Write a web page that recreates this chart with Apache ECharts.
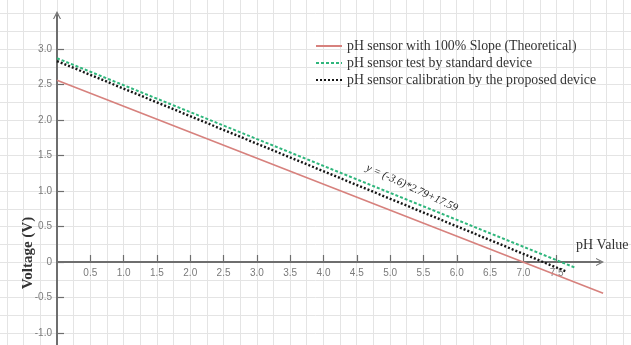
<!DOCTYPE html>
<html>
<head>
<meta charset="utf-8">
<script src="https://cdn.jsdelivr.net/npm/echarts@6/dist/echarts.min.js"></script>
<style>html,body{margin:0;padding:0;background:#fff;}#c{width:631px;height:345px;}</style>
</head>
<body>
<div id="c"></div>
<script>
// ---- data ----
const seriesNames = [
  'pH sensor with 100% Slope (Theoretical)',
  'pH sensor test by standard device',
  'pH sensor calibration by the proposed device'
];
const theoreticalPH = [0, 8.2];
const theoreticalV  = [2.56, -0.44];
const standardPH = [0, 7.78];
const standardV  = [2.87, -0.08];
const proposedPH = [0, 7.66];
const proposedV  = [2.83, -0.14];
const xTickValues = [0.5, 1.0, 1.5, 2.0, 2.5, 3.0, 3.5, 4.0, 4.5, 5.0, 5.5, 6.0, 6.5, 7.0, 7.5];
const yTickValues = [-1.0, -0.5, 0, 0.5, 1.0, 1.5, 2.0, 2.5, 3.0];
const equationText = 'y = (-3.6)*2.79+17.59';
const xAxisTitle = 'pH Value';
const yAxisTitle = 'Voltage (V)';

function pairs(xs, ys) { return xs.map((x, i) => [x, ys[i]]); }

const chart = echarts.init(document.getElementById('c'), null, { renderer: 'canvas' });
const labelFont = { color: '#7a7a7a', fontSize: 10, fontFamily: 'Liberation Sans' };
const arrowPath = 'path://M0,10 L5,0 L10,10 L8.6,10 L5,3 L1.4,10 Z';
const axisColor = '#6e6e6e';
const hiddenAxis = { axisLine: { show: false }, axisTick: { show: false },
  axisLabel: { show: false }, splitLine: { show: false } };

chart.setOption({
  animation: false,
  backgroundColor: '#ffffff',
  legend: {
    orient: 'vertical',
    left: 310,
    top: 34,
    itemWidth: 26,
    itemHeight: 12,
    itemGap: 3,
    itemStyle: { opacity: 0 },
    textStyle: { color: '#333', fontSize: 13.8, fontFamily: 'Liberation Serif' },
    data: seriesNames
  },
  grid: [
    // data + background grid
    { left: -9.6, width: 666, top: -22, height: 390.5, outerBoundsMode: 'none', containLabel: false },
    // vertical (voltage) axis
    { left: 57, right: 31, top: 15, bottom: -23.5, outerBoundsMode: 'none', containLabel: false },
    // horizontal (pH) axis, its bottom edge sits at voltage 0
    { left: 57, right: 31, top: 15, bottom: 83, outerBoundsMode: 'none', containLabel: false }
  ],
  xAxis: [
    {
      gridIndex: 0, type: 'value', min: -1, max: 9, interval: 0.25,
      axisLine: { show: false }, axisTick: { show: false }, axisLabel: { show: false },
      splitLine: { show: true, lineStyle: { color: '#e4e4e4', width: 1 } }
    },
    Object.assign({ gridIndex: 1, type: 'value', min: 0, max: 8.15 }, hiddenAxis),
    {
      gridIndex: 2, type: 'value', min: 0, max: 8.15, position: 'bottom',
      axisLine: { show: true, onZero: false, symbol: ['none', arrowPath], symbolSize: [10, 8],
        lineStyle: { color: axisColor, width: 2 } },
      axisTick: { show: true, inside: true, length: 7, customValues: xTickValues,
        lineStyle: { color: axisColor, width: 1.2 } },
      axisLabel: { show: true, customValues: xTickValues, margin: 6,
        formatter: v => v.toFixed(1), ...labelFont },
      splitLine: { show: false }
    }
  ],
  yAxis: [
    {
      gridIndex: 0, type: 'value', min: -1.5, max: 4, interval: 0.25,
      axisLine: { show: false }, axisTick: { show: false }, axisLabel: { show: false },
      splitLine: { show: true, lineStyle: { color: '#e4e4e4', width: 1 } }
    },
    {
      gridIndex: 1, type: 'value', min: -1.5, max: 3.479, position: 'left',
      axisLine: { show: true, onZero: false, symbol: ['none', arrowPath], symbolSize: [10, 8],
        lineStyle: { color: axisColor, width: 2 } },
      axisTick: { show: true, inside: true, length: 7, customValues: yTickValues,
        lineStyle: { color: axisColor, width: 1.2 } },
      axisLabel: { show: true, customValues: yTickValues, margin: 5,
        formatter: v => (v === 0 ? '0' : v.toFixed(1)), ...labelFont },
      splitLine: { show: false }
    },
    Object.assign({ gridIndex: 2, type: 'value', min: 0, max: 1 }, hiddenAxis)
  ],
  series: [
    {
      name: seriesNames[0], type: 'line', xAxisIndex: 0, yAxisIndex: 0,
      data: pairs(theoreticalPH, theoreticalV), symbol: 'none', silent: true,
      lineStyle: { color: '#d7817d', width: 1.6, type: 'solid' }, itemStyle: { color: '#d7817d' }
    },
    {
      name: seriesNames[1], type: 'line', xAxisIndex: 0, yAxisIndex: 0,
      data: pairs(standardPH, standardV), symbol: 'none', silent: true,
      lineStyle: { color: '#2fb67c', width: 2, type: [3, 2] }, itemStyle: { color: '#2fb67c' }
    },
    {
      name: seriesNames[2], type: 'line', xAxisIndex: 0, yAxisIndex: 0,
      data: pairs(proposedPH, proposedV), symbol: 'none', silent: true,
      lineStyle: { color: '#151515', width: 2.4, type: [2, 2] }, itemStyle: { color: '#151515' }
    }
  ],
  graphic: [
    {
      type: 'text', x: 412, y: 188, rotation: -0.43, z: 100,
      style: { text: equationText, fill: '#222', font: 'italic 11px "Liberation Serif"',
        align: 'center', verticalAlign: 'middle' }
    },
    {
      type: 'text', x: 576, y: 245, z: 100,
      style: { text: xAxisTitle, fill: '#333', font: '14px "Liberation Serif"',
        align: 'left', verticalAlign: 'middle' }
    },
    {
      type: 'text', x: 28, y: 253, rotation: Math.PI / 2, z: 100,
      style: { text: yAxisTitle, fill: '#333', font: 'bold 15px "Liberation Serif"',
        align: 'center', verticalAlign: 'middle' }
    }
  ]
});
</script>
</body>
</html>
